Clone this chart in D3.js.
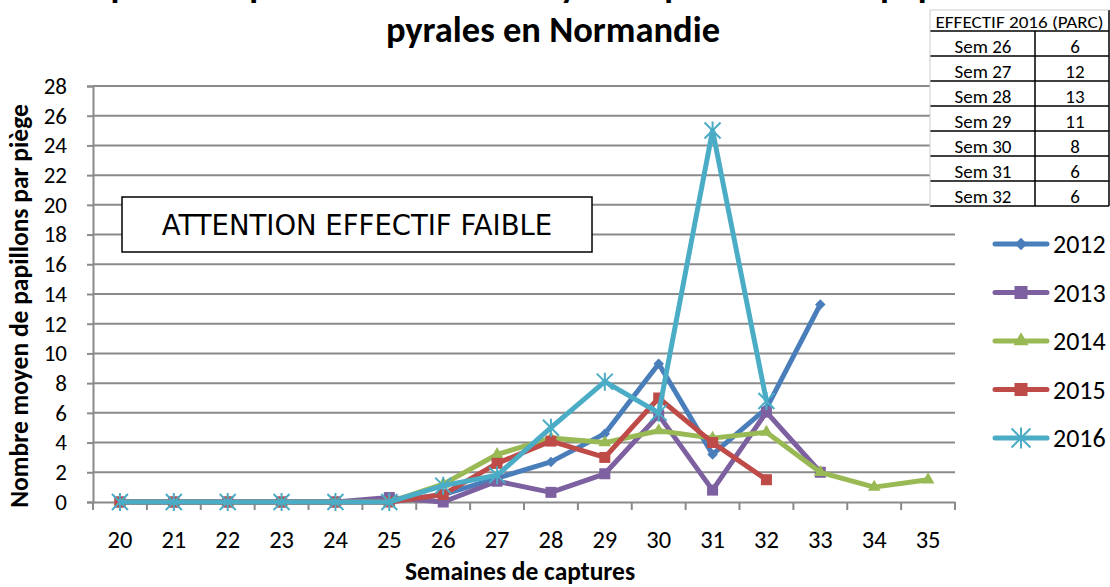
<!DOCTYPE html>
<html><head><meta charset="utf-8">
<script src="https://cdn.jsdelivr.net/npm/d3@7"></script>
<style>body{margin:0;background:#fff}svg{display:block}</style>
</head><body>
<script>
const weeks = [20,21,22,23,24,25,26,27,28,29,30,31,32,33,34,35];
const yTicks = [0,2,4,6,8,10,12,14,16,18,20,22,24,26,28];
const s2012 = [0,0,0,0,0,0,0.5,1.6,2.7,4.6,9.3,3.2,6.3,13.3,null,null];
const s2013 = [0,0,0,0,0,0.3,0.0,1.4,0.65,1.9,5.85,0.8,6.05,2.0,null,null];
const s2014 = [0,0,0,0,0,0,1.2,3.2,4.3,4.0,4.8,4.3,4.7,2.0,1.0,1.5];
const s2015 = [0,0,0,0,0,0,0.5,2.6,4.1,3.0,7.0,4.0,1.5,null,null,null];
const s2016 = [0,0,0,0,0,0,1.1,1.8,5.0,8.1,6.0,25.0,6.8,null,null,null];
const seriesNames = ["2012","2013","2014","2015","2016"];
const seriesColors = ["#4A7EBB","#7D60A0","#98B954","#BE4B48","#4BACC6"];
const seriesMarkers = ["diamond","square","triangle","square","star"];
const tableHeader = "EFFECTIF 2016 (PARC)";
const tableWeeks = ["Sem 26","Sem 27","Sem 28","Sem 29","Sem 30","Sem 31","Sem 32"];
const tableCounts = [6,12,13,11,8,6,6];
const allSeries = [s2012,s2013,s2014,s2015,s2016];

(function(){
const W=1110,H=587;
const svg=d3.select("body").append("svg").attr("width",W).attr("height",H);
const font="Carlito, Lato, 'Open Sans', sans-serif";
const pL=93,pR=955,pT=86,pB=502;
const x=d3.scaleBand().domain(weeks).range([pL,pR]);
const y=d3.scaleLinear().domain([0,28]).range([pB,pT]);
const grid="#8a8a8a";

svg.append("g").selectAll("line").data(yTicks.filter(d=>d>0)).join("line")
 .attr("x1",pL).attr("x2",pR).attr("y1",d=>y(d)).attr("y2",d=>y(d))
 .attr("stroke",grid).attr("stroke-width",2);

const ya=svg.append("g").attr("transform",`translate(${pL},0)`)
 .call(d3.axisLeft(y).tickValues(yTicks).tickSize(6).tickPadding(20));
ya.select(".domain").attr("stroke",grid).attr("stroke-width",2);
ya.selectAll(".tick line").attr("stroke",grid).attr("stroke-width",2);
ya.selectAll("text").attr("font-family",font).attr("font-size",23).attr("fill","#000");

const xa=svg.append("g").attr("transform",`translate(0,${pB})`)
 .call(d3.axisBottom(x).tickSize(0).tickPadding(29));
xa.select(".domain").attr("stroke",grid).attr("stroke-width",2);
xa.selectAll("text").attr("font-family",font).attr("font-size",24.5).attr("fill","#000");
svg.append("g").selectAll("line").data(d3.range(weeks.length+1)).join("line")
 .attr("x1",i=>pL+i*x.step()).attr("x2",i=>pL+i*x.step())
 .attr("y1",pB).attr("y2",pB+8).attr("stroke",grid).attr("stroke-width",2);

svg.append("text").attr("x",520).attr("y",580).attr("text-anchor","middle")
 .attr("font-family",font).attr("font-weight","bold").attr("font-size",25.5).text("Semaines de captures");
svg.append("text").attr("transform","translate(28,306) rotate(-90)").attr("text-anchor","middle")
 .attr("font-family",font).attr("font-weight","bold").attr("font-size",25.5).text("Nombre moyen de papillons par piège");

svg.append("text").attr("x",553).attr("y",-3).attr("text-anchor","middle")
 .attr("font-family",font).attr("font-weight","bold").attr("font-size",36.5)
 .text("Comparaison pluriannuelle de la dynamique de vol des papillons de");
svg.append("text").attr("x",553).attr("y",42).attr("text-anchor","middle")
 .attr("font-family",font).attr("font-weight","bold").attr("font-size",36.5).text("pyrales en Normandie");

svg.append("rect").attr("x",122).attr("y",197).attr("width",470).attr("height",55)
 .attr("fill","#fff").attr("stroke","#000").attr("stroke-width",1.5);
svg.append("text").attr("x",357).attr("y",235).attr("text-anchor","middle")
 .attr("font-family","'DejaVu Sans', sans-serif").attr("font-size",27.5).text("ATTENTION EFFECTIF FAIBLE");

function marker(g,type,color,cx,cy,k){
 k=k||1;
 if(type==="diamond"){
  g.append("path").attr("d",d3.symbol(d3.symbolDiamond2,70*k)()).attr("transform",`translate(${cx},${cy})`).attr("fill",color);
 } else if(type==="square"){
  const h=5.5*Math.sqrt(k);
  g.append("rect").attr("x",cx-h).attr("y",cy-h).attr("width",2*h).attr("height",2*h).attr("fill",color);
 } else if(type==="triangle"){
  g.append("path").attr("d",d3.symbol(d3.symbolTriangle,70*k)()).attr("transform",`translate(${cx},${cy})`).attr("fill",color);
 } else {
  const r=8*Math.sqrt(k);
  g.append("path").attr("d",`M${cx-r},${cy-r}L${cx+r},${cy+r}M${cx-r},${cy+r}L${cx+r},${cy-r}M${cx},${cy-r-1}L${cx},${cy+r+1}`)
   .attr("stroke",color).attr("stroke-width",2).attr("fill","none");
 }
}

const line=d3.line().defined(d=>d.v!==null).x(d=>x(d.w)+x.bandwidth()/2).y(d=>y(d.v));
allSeries.forEach((s,i)=>{
 const pts=weeks.map((w,j)=>({w,v:s[j]}));
 const g=svg.append("g");
 g.append("path").datum(pts).attr("d",line).attr("fill","none")
  .attr("stroke",seriesColors[i]).attr("stroke-width",5).attr("stroke-linejoin","round");
 pts.filter(d=>d.v!==null).forEach(d=>marker(g,seriesMarkers[i],seriesColors[i],x(d.w)+x.bandwidth()/2,y(d.v)));
});

const lg=svg.append("g");
seriesNames.forEach((n,i)=>{
 const ly=244+i*48.5;
 lg.append("line").attr("x1",995).attr("x2",1047).attr("y1",ly).attr("y2",ly)
  .attr("stroke",seriesColors[i]).attr("stroke-width",5).attr("stroke-linecap","round");
 marker(lg,seriesMarkers[i],seriesColors[i],1021,ly,1.4);
 lg.append("text").attr("x",1053).attr("y",ly+9).attr("font-family",font).attr("font-size",26).text(n);
});

const tx=930,tw=179,tc=1035,th0=10,hh=21,rh=25;
const tg=svg.append("g");
const tb=th0+hh+rh*7;
tg.append("rect").attr("x",tx).attr("y",th0).attr("width",tw).attr("height",tb-th0).attr("fill","#fff");
tg.append("text").attr("x",tx+tw/2).attr("y",th0+18).attr("text-anchor","middle")
 .attr("font-family",font).attr("font-size",16).attr("textLength",168).attr("lengthAdjust","spacingAndGlyphs").text(tableHeader);
tableWeeks.forEach((w,i)=>{
 const ry=th0+hh+rh*i;
 tg.append("line").attr("x1",tx).attr("x2",tx+tw).attr("y1",ry).attr("y2",ry).attr("stroke","#000").attr("stroke-width",1.5);
 tg.append("text").attr("x",983).attr("y",ry+21.5).attr("text-anchor","middle")
  .attr("font-family",font).attr("font-size",19).text(w);
 tg.append("text").attr("x",1075).attr("y",ry+21.5).attr("text-anchor","middle")
  .attr("font-family",font).attr("font-size",19).text(tableCounts[i]);
});
tg.append("line").attr("x1",tx).attr("x2",tx+tw).attr("y1",tb).attr("y2",tb).attr("stroke","#000").attr("stroke-width",1.5);
tg.append("line").attr("x1",tc).attr("x2",tc).attr("y1",th0+hh).attr("y2",tb).attr("stroke","#000").attr("stroke-width",1.5);
tg.append("line").attr("x1",tx).attr("x2",tx).attr("y1",th0).attr("y2",tb).attr("stroke","#ccc").attr("stroke-width",1);
tg.append("line").attr("x1",tx+tw).attr("x2",tx+tw).attr("y1",th0).attr("y2",tb).attr("stroke","#000").attr("stroke-width",1.5);
tg.append("line").attr("x1",tx).attr("x2",tx+tw).attr("y1",th0).attr("y2",th0).attr("stroke","#ccc").attr("stroke-width",1);
})();
</script>
</body></html>
